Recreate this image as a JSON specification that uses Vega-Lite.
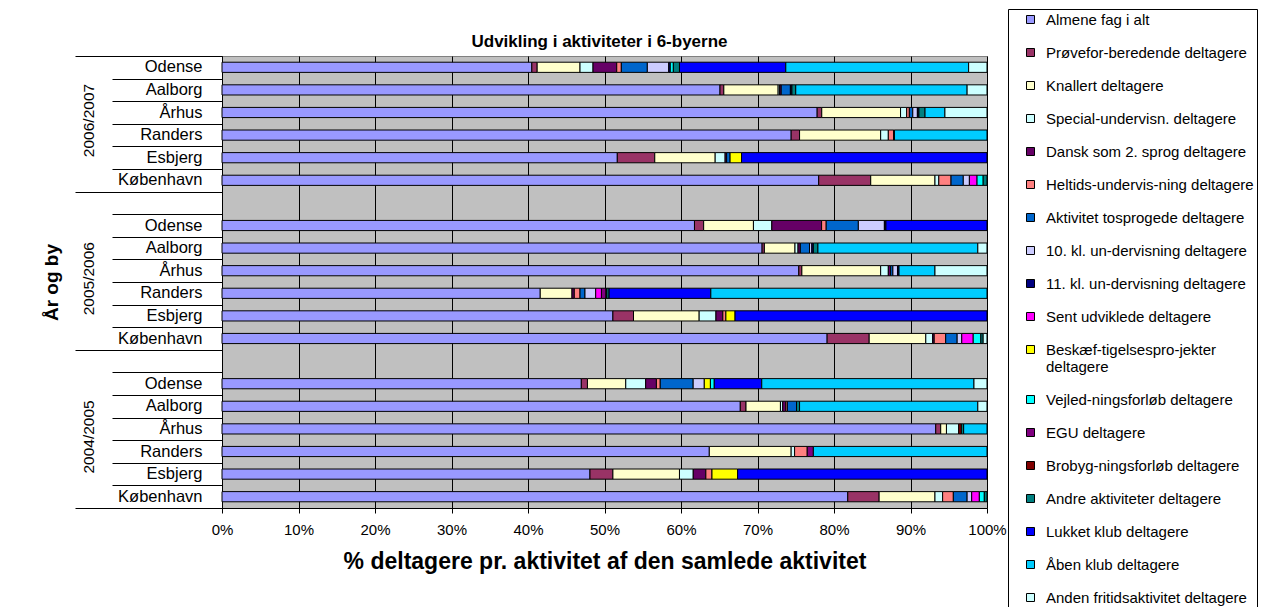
{
 "$schema": "https://vega.github.io/schema/vega-lite/v6.json",
 "width": 765,
 "height": 452,
 "padding": {"left": 42, "top": 8, "right": 0, "bottom": 0},
 "background": "white",
 "title": {"text": "Udvikling i aktiviteter i 6-byerne", "fontSize": 17, "fontWeight": "bold", "font": "Liberation Sans", "color": "black", "anchor": "middle", "frame": "group", "offset": -42, "dx": -5},
 "datasets": {
  "navne": [
   {"c": "A", "i": 1, "a": "Almene fag i alt"},
   {"c": "P", "i": 2, "a": "Prøvefor-beredende deltagere"},
   {"c": "K", "i": 3, "a": "Knallert deltagere"},
   {"c": "S", "i": 4, "a": "Special-undervisn. deltagere"},
   {"c": "D", "i": 5, "a": "Dansk som 2. sprog deltagere"},
   {"c": "H", "i": 6, "a": "Heltids-undervis-ning deltagere"},
   {"c": "T", "i": 7, "a": "Aktivitet tosprogede deltagere"},
   {"c": "X10", "i": 8, "a": "10. kl. un-dervisning deltagere"},
   {"c": "X11", "i": 9, "a": "11. kl. un-dervisning deltagere"},
   {"c": "SU", "i": 10, "a": "Sent udviklede deltagere"},
   {"c": "B", "i": 11, "a": "Beskæf-tigelsespro-jekter deltagere"},
   {"c": "V", "i": 12, "a": "Vejled-ningsforløb deltagere"},
   {"c": "E", "i": 13, "a": "EGU deltagere"},
   {"c": "BR", "i": 14, "a": "Brobyg-ningsforløb deltagere"},
   {"c": "AN", "i": 15, "a": "Andre aktiviteter deltagere"},
   {"c": "L", "i": 16, "a": "Lukket klub deltagere"},
   {"c": "AA", "i": 17, "a": "Åben klub deltagere"},
   {"c": "AF", "i": 18, "a": "Anden fritidsaktivitet deltagere"}
  ],
  "bars": [
   {"k": "2006/2007|Odense", "c": "A", "v": 40.5}, {"k": "2006/2007|Odense", "c": "P", "v": 0.7}, {"k": "2006/2007|Odense", "c": "K", "v": 5.6}, {"k": "2006/2007|Odense", "c": "S", "v": 1.7}, {"k": "2006/2007|Odense", "c": "D", "v": 3.1}, {"k": "2006/2007|Odense", "c": "H", "v": 0.6}, {"k": "2006/2007|Odense", "c": "T", "v": 3.4}, {"k": "2006/2007|Odense", "c": "X10", "v": 2.8}, {"k": "2006/2007|Odense", "c": "X11", "v": 0.2}, {"k": "2006/2007|Odense", "c": "V", "v": 0.4}, {"k": "2006/2007|Odense", "c": "AN", "v": 0.8}, {"k": "2006/2007|Odense", "c": "L", "v": 13.9}, {"k": "2006/2007|Odense", "c": "AA", "v": 23.9}, {"k": "2006/2007|Odense", "c": "AF", "v": 2.4},
   {"k": "2006/2007|Aalborg", "c": "A", "v": 65.1}, {"k": "2006/2007|Aalborg", "c": "P", "v": 0.5}, {"k": "2006/2007|Aalborg", "c": "K", "v": 7.1}, {"k": "2006/2007|Aalborg", "c": "S", "v": 0.2}, {"k": "2006/2007|Aalborg", "c": "D", "v": 0.2}, {"k": "2006/2007|Aalborg", "c": "T", "v": 1.2}, {"k": "2006/2007|Aalborg", "c": "X11", "v": 0.2}, {"k": "2006/2007|Aalborg", "c": "AN", "v": 0.5}, {"k": "2006/2007|Aalborg", "c": "AA", "v": 22.4}, {"k": "2006/2007|Aalborg", "c": "AF", "v": 2.6},
   {"k": "2006/2007|Århus", "c": "A", "v": 77.8}, {"k": "2006/2007|Århus", "c": "P", "v": 0.6}, {"k": "2006/2007|Århus", "c": "K", "v": 10.3}, {"k": "2006/2007|Århus", "c": "S", "v": 0.8}, {"k": "2006/2007|Århus", "c": "H", "v": 0.35}, {"k": "2006/2007|Århus", "c": "T", "v": 0.45}, {"k": "2006/2007|Århus", "c": "X10", "v": 0.6}, {"k": "2006/2007|Århus", "c": "X11", "v": 0.2}, {"k": "2006/2007|Århus", "c": "AN", "v": 0.8}, {"k": "2006/2007|Århus", "c": "AA", "v": 2.6}, {"k": "2006/2007|Århus", "c": "AF", "v": 5.5},
   {"k": "2006/2007|Randers", "c": "A", "v": 74.4}, {"k": "2006/2007|Randers", "c": "P", "v": 1.1}, {"k": "2006/2007|Randers", "c": "K", "v": 10.6}, {"k": "2006/2007|Randers", "c": "S", "v": 1.0}, {"k": "2006/2007|Randers", "c": "H", "v": 0.7}, {"k": "2006/2007|Randers", "c": "BR", "v": 0.1}, {"k": "2006/2007|Randers", "c": "AA", "v": 12.1},
   {"k": "2006/2007|Esbjerg", "c": "A", "v": 51.7}, {"k": "2006/2007|Esbjerg", "c": "P", "v": 4.9}, {"k": "2006/2007|Esbjerg", "c": "K", "v": 7.9}, {"k": "2006/2007|Esbjerg", "c": "S", "v": 1.3}, {"k": "2006/2007|Esbjerg", "c": "D", "v": 0.2}, {"k": "2006/2007|Esbjerg", "c": "T", "v": 0.45}, {"k": "2006/2007|Esbjerg", "c": "B", "v": 1.5}, {"k": "2006/2007|Esbjerg", "c": "L", "v": 32.1},
   {"k": "2006/2007|København", "c": "A", "v": 78.0}, {"k": "2006/2007|København", "c": "P", "v": 6.8}, {"k": "2006/2007|København", "c": "K", "v": 8.4}, {"k": "2006/2007|København", "c": "S", "v": 0.5}, {"k": "2006/2007|København", "c": "H", "v": 1.6}, {"k": "2006/2007|København", "c": "T", "v": 1.6}, {"k": "2006/2007|København", "c": "X10", "v": 0.8}, {"k": "2006/2007|København", "c": "SU", "v": 1.0}, {"k": "2006/2007|København", "c": "V", "v": 0.8}, {"k": "2006/2007|København", "c": "AN", "v": 0.5},
   {"k": "2005/2006|Odense", "c": "A", "v": 61.7}, {"k": "2005/2006|Odense", "c": "P", "v": 1.2}, {"k": "2005/2006|Odense", "c": "K", "v": 6.5}, {"k": "2005/2006|Odense", "c": "S", "v": 2.4}, {"k": "2005/2006|Odense", "c": "D", "v": 6.5}, {"k": "2005/2006|Odense", "c": "H", "v": 0.6}, {"k": "2005/2006|Odense", "c": "T", "v": 4.2}, {"k": "2005/2006|Odense", "c": "X10", "v": 3.4}, {"k": "2005/2006|Odense", "c": "X11", "v": 0.2}, {"k": "2005/2006|Odense", "c": "L", "v": 13.2},
   {"k": "2005/2006|Aalborg", "c": "A", "v": 70.6}, {"k": "2005/2006|Aalborg", "c": "P", "v": 0.3}, {"k": "2005/2006|Aalborg", "c": "K", "v": 4.0}, {"k": "2005/2006|Aalborg", "c": "S", "v": 0.4}, {"k": "2005/2006|Aalborg", "c": "D", "v": 0.3}, {"k": "2005/2006|Aalborg", "c": "T", "v": 1.2}, {"k": "2005/2006|Aalborg", "c": "X10", "v": 0.3}, {"k": "2005/2006|Aalborg", "c": "X11", "v": 0.2}, {"k": "2005/2006|Aalborg", "c": "AN", "v": 0.6}, {"k": "2005/2006|Aalborg", "c": "AA", "v": 20.9}, {"k": "2005/2006|Aalborg", "c": "AF", "v": 1.2},
   {"k": "2005/2006|Århus", "c": "A", "v": 75.4}, {"k": "2005/2006|Århus", "c": "P", "v": 0.4}, {"k": "2005/2006|Århus", "c": "K", "v": 10.3}, {"k": "2005/2006|Århus", "c": "S", "v": 1.0}, {"k": "2005/2006|Århus", "c": "D", "v": 0.3}, {"k": "2005/2006|Århus", "c": "T", "v": 0.3}, {"k": "2005/2006|Århus", "c": "X10", "v": 0.6}, {"k": "2005/2006|Århus", "c": "X11", "v": 0.2}, {"k": "2005/2006|Århus", "c": "AA", "v": 4.7}, {"k": "2005/2006|Århus", "c": "AF", "v": 6.8},
   {"k": "2005/2006|Randers", "c": "A", "v": 41.6}, {"k": "2005/2006|Randers", "c": "K", "v": 4.15}, {"k": "2005/2006|Randers", "c": "D", "v": 0.3}, {"k": "2005/2006|Randers", "c": "H", "v": 0.75}, {"k": "2005/2006|Randers", "c": "T", "v": 0.65}, {"k": "2005/2006|Randers", "c": "X10", "v": 1.4}, {"k": "2005/2006|Randers", "c": "SU", "v": 0.75}, {"k": "2005/2006|Randers", "c": "E", "v": 0.6}, {"k": "2005/2006|Randers", "c": "BR", "v": 0.1}, {"k": "2005/2006|Randers", "c": "AN", "v": 0.3}, {"k": "2005/2006|Randers", "c": "L", "v": 13.3}, {"k": "2005/2006|Randers", "c": "AA", "v": 36.1},
   {"k": "2005/2006|Esbjerg", "c": "A", "v": 51.2}, {"k": "2005/2006|Esbjerg", "c": "P", "v": 2.7}, {"k": "2005/2006|Esbjerg", "c": "K", "v": 8.6}, {"k": "2005/2006|Esbjerg", "c": "S", "v": 2.2}, {"k": "2005/2006|Esbjerg", "c": "D", "v": 0.9}, {"k": "2005/2006|Esbjerg", "c": "H", "v": 0.4}, {"k": "2005/2006|Esbjerg", "c": "B", "v": 1.2}, {"k": "2005/2006|Esbjerg", "c": "L", "v": 33.0},
   {"k": "2005/2006|København", "c": "A", "v": 79.1}, {"k": "2005/2006|København", "c": "P", "v": 5.5}, {"k": "2005/2006|København", "c": "K", "v": 7.4}, {"k": "2005/2006|København", "c": "S", "v": 0.9}, {"k": "2005/2006|København", "c": "D", "v": 0.2}, {"k": "2005/2006|København", "c": "H", "v": 1.5}, {"k": "2005/2006|København", "c": "T", "v": 1.5}, {"k": "2005/2006|København", "c": "X10", "v": 0.6}, {"k": "2005/2006|København", "c": "SU", "v": 1.5}, {"k": "2005/2006|København", "c": "V", "v": 1.0}, {"k": "2005/2006|København", "c": "AN", "v": 0.3}, {"k": "2005/2006|København", "c": "AF", "v": 0.5},
   {"k": "2004/2005|Odense", "c": "A", "v": 46.9}, {"k": "2004/2005|Odense", "c": "P", "v": 0.8}, {"k": "2004/2005|Odense", "c": "K", "v": 5.0}, {"k": "2004/2005|Odense", "c": "S", "v": 2.6}, {"k": "2004/2005|Odense", "c": "D", "v": 1.4}, {"k": "2004/2005|Odense", "c": "H", "v": 0.5}, {"k": "2004/2005|Odense", "c": "T", "v": 4.3}, {"k": "2004/2005|Odense", "c": "X10", "v": 1.45}, {"k": "2004/2005|Odense", "c": "B", "v": 0.8}, {"k": "2004/2005|Odense", "c": "V", "v": 0.5}, {"k": "2004/2005|Odense", "c": "L", "v": 6.2}, {"k": "2004/2005|Odense", "c": "AA", "v": 27.7}, {"k": "2004/2005|Odense", "c": "AF", "v": 1.7},
   {"k": "2004/2005|Aalborg", "c": "A", "v": 67.75}, {"k": "2004/2005|Aalborg", "c": "P", "v": 0.75}, {"k": "2004/2005|Aalborg", "c": "K", "v": 4.5}, {"k": "2004/2005|Aalborg", "c": "S", "v": 0.3}, {"k": "2004/2005|Aalborg", "c": "D", "v": 0.4}, {"k": "2004/2005|Aalborg", "c": "H", "v": 0.2}, {"k": "2004/2005|Aalborg", "c": "T", "v": 1.2}, {"k": "2004/2005|Aalborg", "c": "AN", "v": 0.4}, {"k": "2004/2005|Aalborg", "c": "AA", "v": 23.3}, {"k": "2004/2005|Aalborg", "c": "AF", "v": 1.2},
   {"k": "2004/2005|Århus", "c": "A", "v": 93.3}, {"k": "2004/2005|Århus", "c": "P", "v": 0.65}, {"k": "2004/2005|Århus", "c": "K", "v": 0.75}, {"k": "2004/2005|Århus", "c": "S", "v": 1.6}, {"k": "2004/2005|Århus", "c": "BR", "v": 0.35}, {"k": "2004/2005|Århus", "c": "AN", "v": 0.3}, {"k": "2004/2005|Århus", "c": "AA", "v": 3.05},
   {"k": "2004/2005|Randers", "c": "A", "v": 63.7}, {"k": "2004/2005|Randers", "c": "K", "v": 10.7}, {"k": "2004/2005|Randers", "c": "S", "v": 0.45}, {"k": "2004/2005|Randers", "c": "H", "v": 1.65}, {"k": "2004/2005|Randers", "c": "E", "v": 0.8}, {"k": "2004/2005|Randers", "c": "AA", "v": 22.7},
   {"k": "2004/2005|Esbjerg", "c": "A", "v": 48.1}, {"k": "2004/2005|Esbjerg", "c": "P", "v": 3.0}, {"k": "2004/2005|Esbjerg", "c": "K", "v": 8.7}, {"k": "2004/2005|Esbjerg", "c": "S", "v": 1.8}, {"k": "2004/2005|Esbjerg", "c": "D", "v": 1.65}, {"k": "2004/2005|Esbjerg", "c": "H", "v": 0.8}, {"k": "2004/2005|Esbjerg", "c": "B", "v": 3.35}, {"k": "2004/2005|Esbjerg", "c": "L", "v": 32.6},
   {"k": "2004/2005|København", "c": "A", "v": 81.8}, {"k": "2004/2005|København", "c": "P", "v": 4.1}, {"k": "2004/2005|København", "c": "K", "v": 7.3}, {"k": "2004/2005|København", "c": "S", "v": 1.0}, {"k": "2004/2005|København", "c": "H", "v": 1.4}, {"k": "2004/2005|København", "c": "T", "v": 1.8}, {"k": "2004/2005|København", "c": "X10", "v": 0.6}, {"k": "2004/2005|København", "c": "SU", "v": 1.0}, {"k": "2004/2005|København", "c": "V", "v": 0.65}, {"k": "2004/2005|København", "c": "AN", "v": 0.35}
  ]
 },
 "data": {"name": "bars"},
 "transform": [{"lookup": "c", "from": {"data": {"name": "navne"}, "key": "c", "fields": ["a", "i"]}}],
 "layer": [
  {
   "mark": {"type": "bar", "stroke": "black", "strokeWidth": 1},
   "encoding": {
    "y": {"field": "k", "type": "nominal",
     "scale": {"domain": ["2006/2007|Odense","2006/2007|Aalborg","2006/2007|Århus","2006/2007|Randers","2006/2007|Esbjerg","2006/2007|København","tom1","2005/2006|Odense","2005/2006|Aalborg","2005/2006|Århus","2005/2006|Randers","2005/2006|Esbjerg","2005/2006|København","tom2","2004/2005|Odense","2004/2005|Aalborg","2004/2005|Århus","2004/2005|Randers","2004/2005|Esbjerg","2004/2005|København"], "paddingInner": 0.55, "paddingOuter": 0.275},
     "axis": {"orient": "left", "title": null, "labelExpr": "(datum.label == 'tom1' || datum.label == 'tom2') ? '' : split(datum.label, '|')[1]", "ticks": false, "tickSize": 0, "labelPadding": 20, "labelFontSize": 16.5, "labelColor": "black", "domainColor": "black", "labelOverlap": false, "grid": false}
    },
    "x": {"field": "v", "type": "quantitative", "stack": "normalize",
     "title": "% deltagere pr. aktivitet af den samlede aktivitet",
     "axis": {"values": [0, 0.1, 0.2, 0.3, 0.4, 0.5, 0.6, 0.7, 0.8, 0.9, 1], "format": ".0%", "grid": true, "gridColor": "black", "gridOpacity": 1, "gridWidth": 1, "tickColor": "black", "tickSize": 5, "domainColor": "black", "labelFontSize": 15, "labelPadding": 9, "labelFlush": false, "labelColor": "black", "titleFontSize": 23, "titlePadding": 13, "titleColor": "black"}
    },
    "order": {"field": "i", "type": "quantitative"},
    "color": {"field": "a", "type": "nominal",
     "scale": {"domain": ["Almene fag i alt","Prøvefor-beredende deltagere","Knallert deltagere","Special-undervisn. deltagere","Dansk som 2. sprog deltagere","Heltids-undervis-ning deltagere","Aktivitet tosprogede deltagere","10. kl. un-dervisning deltagere","11. kl. un-dervisning deltagere","Sent udviklede deltagere","Beskæf-tigelsespro-jekter deltagere","Vejled-ningsforløb deltagere","EGU deltagere","Brobyg-ningsforløb deltagere","Andre aktiviteter deltagere","Lukket klub deltagere","Åben klub deltagere","Anden fritidsaktivitet deltagere"],
      "range": ["#9999FF","#993366","#FFFFCC","#CCFFFF","#660066","#FF8080","#0066CC","#CCCCFF","#000080","#FF00FF","#FFFF00","#00FFFF","#800080","#800000","#008080","#0000FF","#00CCFF","#CCFFFF"]},
     "legend": {"orient": "none", "legendX": 786, "legendY": -47, "direction": "vertical", "title": null, "strokeColor": "black", "fillColor": "white", "padding": 3, "symbolType": "square", "symbolSize": 64, "symbolStrokeColor": "black", "symbolStrokeWidth": 1, "symbolOffset": 12, "labelFontSize": 15, "labelColor": "black", "labelLimit": 400, "labelOffset": 8, "rowPadding": 17, "labelExpr": "datum.label == 'Beskæf-tigelsespro-jekter deltagere' ? ['\u00a0Beskæf-tigelsespro-jekter', 'deltagere'] : datum.label == 'EGU deltagere' ? '\u00a0EGU deltagere' : datum.label"}
    }
   }
  },
  {
   "mark": {"type": "rule", "opacity": 0},
   "encoding": {
    "y": {"field": "k", "type": "nominal",
     "scale": {"domain": ["2006/2007|Odense","2006/2007|Aalborg","2006/2007|Århus","2006/2007|Randers","2006/2007|Esbjerg","2006/2007|København","tom1","2005/2006|Odense","2005/2006|Aalborg","2005/2006|Århus","2005/2006|Randers","2005/2006|Esbjerg","2005/2006|København","tom2","2004/2005|Odense","2004/2005|Aalborg","2004/2005|Århus","2004/2005|Randers","2004/2005|Esbjerg","2004/2005|København"], "paddingInner": 0.55, "paddingOuter": 0.275},
     "axis": {"orient": "left", "bandPosition": 1, "tickOffset": 6.2, "ticks": true, "tickSize": 110, "tickColor": "black", "labels": false, "domain": false, "grid": false, "title": null}
    }
   }
  },
  {
   "mark": {"type": "rule", "opacity": 0},
   "encoding": {
    "y": {"field": "k", "type": "nominal",
     "scale": {"domain": ["2006/2007|Odense","2006/2007|Aalborg","2006/2007|Århus","2006/2007|Randers","2006/2007|Esbjerg","2006/2007|København","tom1","2005/2006|Odense","2005/2006|Aalborg","2005/2006|Århus","2005/2006|Randers","2005/2006|Esbjerg","2005/2006|København","tom2","2004/2005|Odense","2004/2005|Aalborg","2004/2005|Århus","2004/2005|Randers","2004/2005|Esbjerg","2004/2005|København"], "paddingInner": 0.55, "paddingOuter": 0.275},
     "axis": {"orient": "left", "values": ["2006/2007|Odense", "tom1", "tom2"], "bandPosition": 0, "tickOffset": -6.2, "ticks": true, "tickSize": 147, "tickColor": "black", "labels": false, "domain": false, "grid": false, "title": "År og by", "titleFontSize": 19, "titleFontWeight": "bold", "titleColor": "black", "titlePadding": 13}
    }
   }
  },
  {
   "mark": {"type": "rule", "opacity": 0},
   "encoding": {
    "y": {"field": "k", "type": "nominal",
     "scale": {"domain": ["2006/2007|Odense","2006/2007|Aalborg","2006/2007|Århus","2006/2007|Randers","2006/2007|Esbjerg","2006/2007|København","tom1","2005/2006|Odense","2005/2006|Aalborg","2005/2006|Århus","2005/2006|Randers","2005/2006|Esbjerg","2005/2006|København","tom2","2004/2005|Odense","2004/2005|Aalborg","2004/2005|Århus","2004/2005|Randers","2004/2005|Esbjerg","2004/2005|København"], "paddingInner": 0.55, "paddingOuter": 0.275},
     "axis": {"orient": "left", "values": ["2004/2005|København"], "bandPosition": 1, "tickOffset": 6.2, "ticks": true, "tickSize": 147, "tickColor": "black", "labels": false, "domain": false, "grid": false, "title": null}
    }
   }
  },
  {
   "mark": {"type": "rule", "opacity": 0},
   "encoding": {
    "y": {"field": "k", "type": "nominal",
     "scale": {"domain": ["2006/2007|Odense","2006/2007|Aalborg","2006/2007|Århus","2006/2007|Randers","2006/2007|Esbjerg","2006/2007|København","tom1","2005/2006|Odense","2005/2006|Aalborg","2005/2006|Århus","2005/2006|Randers","2005/2006|Esbjerg","2005/2006|København","tom2","2004/2005|Odense","2004/2005|Aalborg","2004/2005|Århus","2004/2005|Randers","2004/2005|Esbjerg","2004/2005|København"], "paddingInner": 0.55, "paddingOuter": 0.275},
     "axis": {"orient": "left", "values": ["2006/2007|Århus", "2005/2006|Århus", "2004/2005|Århus"], "bandPosition": 1, "labelOffset": 8, "ticks": false, "tickSize": 0, "labels": true, "labelExpr": "split(datum.label, '|')[0]", "labelAngle": 270, "labelAlign": "center", "labelBaseline": "bottom", "labelPadding": 126, "labelFontSize": 15.5, "labelColor": "black", "labelOverlap": false, "domain": false, "grid": false, "title": null}
    }
   }
  }
 ],
 "resolve": {"axis": {"y": "independent"}},
 "config": {
  "font": "Liberation Sans",
  "view": {"fill": "#C0C0C0", "stroke": "#808080"},
  "axis": {"labelFont": "Liberation Sans", "titleFont": "Liberation Sans"},
  "legend": {"labelFont": "Liberation Sans"}
 }
}
